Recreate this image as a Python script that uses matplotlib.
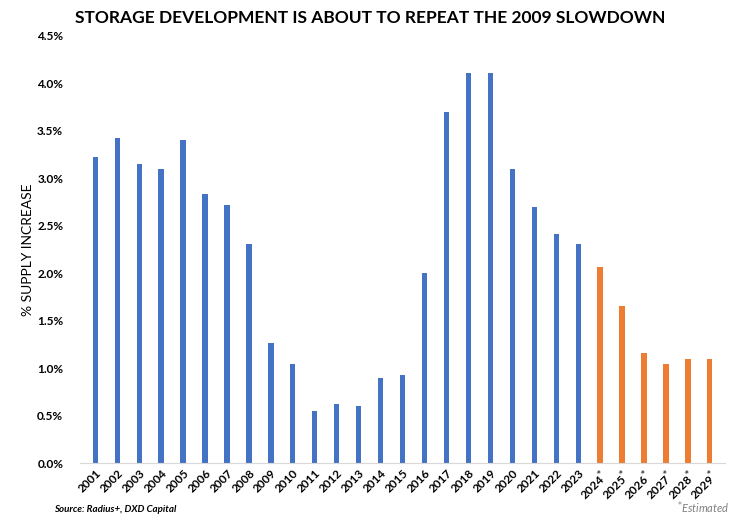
import matplotlib.pyplot as plt
import matplotlib.ticker as mticker

# Data
years = list(range(2001, 2030))
supply_increase = [3.23, 3.42, 3.15, 3.10, 3.40, 2.83, 2.72, 2.31, 1.27, 1.04,
                   0.55, 0.62, 0.60, 0.90, 0.93, 2.00, 3.70, 4.11, 4.11, 3.10,
                   2.70, 2.41, 2.31, 2.07, 1.66, 1.16, 1.04, 1.10, 1.10]
first_estimate = 2024

blue = "#4472C4"
orange = "#ED7D31"

plt.rcParams['font.family'] = ['Lato', 'DejaVu Sans']

fig = plt.figure(figsize=(7.4, 5.21), dpi=100)
ax = fig.add_axes([0.108, 0.111, 0.872, 0.82])

colors = [orange if y >= first_estimate else blue for y in years]
positions = list(range(len(years)))
ax.bar(positions, supply_increase, width=0.24, color=colors)

labels = [f"{y}$^{{*}}$" if y >= first_estimate else str(y) for y in years]
ax.set_xticks(positions)
ax.set_xticklabels(labels, rotation=45, ha='right', rotation_mode='anchor',
                   fontsize=8.5, fontweight='bold')
ax.set_xlim(-0.7, len(years) - 0.3)

ax.set_ylim(0, 4.5)
ax.yaxis.set_major_locator(mticker.MultipleLocator(0.5))
ax.yaxis.set_major_formatter(mticker.FuncFormatter(lambda v, p: f"{v:.1f}%"))
for lbl in ax.get_yticklabels():
    lbl.set_fontweight('bold')
    lbl.set_fontsize(8.5)
ax.tick_params(axis='both', length=0)
ax.tick_params(axis='y', pad=12)
ax.tick_params(axis='x', pad=3)

for s in ['top', 'right', 'left']:
    ax.spines[s].set_visible(False)
ax.spines['bottom'].set_color('#d9d9d9')

ax.set_ylabel("% SUPPLY INCREASE", fontsize=10, labelpad=2)

fig.text(0.5, 0.965, "STORAGE DEVELOPMENT IS ABOUT TO REPEAT THE 2009 SLOWDOWN",
         ha='center', va='center', fontsize=12.5, fontweight='bold')
fig.text(0.073, 0.017, "Source: Radius+, DXD Capital", fontsize=7,
         fontweight='bold', style='italic')
fig.text(0.915, 0.017, "$^{*}$Estimated", fontsize=8, style='italic',
         color='#808080')

fig.savefig("out.png", dpi=100)
